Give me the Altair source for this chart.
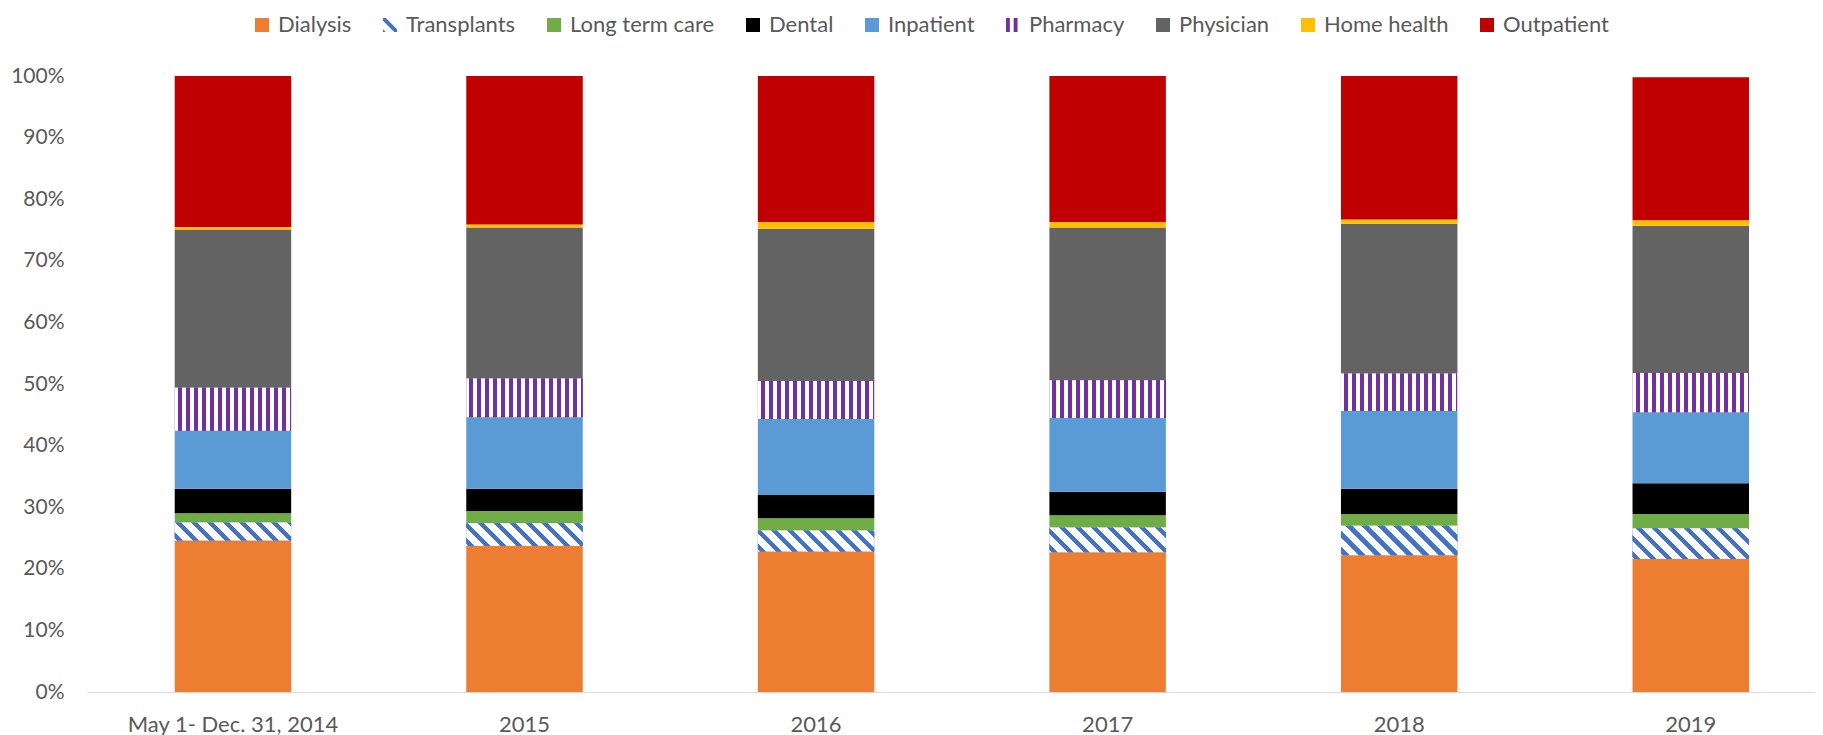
import altair as alt
import pandas as pd

# ---------------- data ----------------
years = ["May 1- Dec. 31, 2014", "2015", "2016", "2017", "2018", "2019"]
categories = ["Dialysis", "Transplants", "Long term care", "Dental", "Inpatient",
              "Pharmacy", "Physician", "Home health", "Outpatient"]
dialysis = [24.6, 23.7, 22.8, 22.7, 22.2, 21.6]
transplants = [2.9, 3.7, 3.4, 4.0, 4.8, 5.0]
long_term_care = [1.5, 2.0, 2.0, 2.0, 1.9, 2.3]
dental = [4.0, 3.6, 3.8, 3.8, 4.1, 5.0]
inpatient = [9.4, 11.6, 12.3, 12.0, 12.6, 11.5]
pharmacy = [7.0, 6.3, 6.2, 6.1, 6.1, 6.4]
physician = [25.7, 24.5, 24.7, 24.8, 24.3, 23.9]
home_health = [0.4, 0.5, 1.1, 0.9, 0.7, 0.9]
outpatient = [24.5, 24.1, 23.7, 23.7, 23.3, 23.2]
y_ticks = [0, 0.1, 0.2, 0.3, 0.4, 0.5, 0.6, 0.7, 0.8, 0.9, 1.0]

series = [dialysis, transplants, long_term_care, dental, inpatient,
          pharmacy, physician, home_health, outpatient]

# ---------------- styles ----------------
colors = ["#ED7D31", "#4472C4", "#70AD47", "#000000", "#5B9BD5",
          "#7030A0", "#636363", "#FFC000", "#C00000"]
TRANSPLANT_PATH = "M-1,-1L-0.6,-1L1,0.6L1,1L0.6,1L-1,-0.6Z M-1,0.6L-0.6,1L-1,1Z"
PHARMACY_PATH = "M-1,-1H-0.45V1H-1Z M0.1,-1H0.65V1H0.1Z"
shapes = ["square", TRANSPLANT_PATH, "square", "square", "square",
          PHARMACY_PATH, "square", "square", "square"]

FONT = "Lato"
TEXT = "#595959"
PLOT_W, PLOT_H = 1728, 616
PAD_INNER, PAD_OUTER, ALIGN = 0.6005, 0.2636, 0.5706
n = len(years)
step = PLOT_W / (n - PAD_INNER + 2 * PAD_OUTER)
band = step * (1 - PAD_INNER)

rows = []
for i, yr in enumerate(years):
    cum = 0.0
    for c, vals in zip(categories, series):
        v = vals[i] / 100.0
        rows.append({"year": yr, "category": c, "value": v, "start": cum, "end": cum + v})
        cum += v
df = pd.DataFrame(rows)


def diag_gradient(h, w, period=16.0, frac=0.4, color="#4472C4"):
    r = h / w
    a = (1 + r) / (1 + r * r)
    L = w + h
    stops = [{"offset": 0, "color": "#ffffff"}]
    pos = 2.0
    while pos < L:
        s = pos / L
        e = min((pos + frac * period) / L, 1.0)
        stops += [{"offset": s, "color": "#ffffff"}, {"offset": s, "color": color},
                  {"offset": e, "color": color}, {"offset": e, "color": "#ffffff"}]
        pos += period
    stops.append({"offset": 1, "color": "#ffffff"})
    return {"gradient": "linear", "x1": 0, "y1": 1, "x2": a, "y2": 1 - a * r, "stops": stops}


def vert_gradient(w, period=8.0, frac=0.5, color="#7030A0"):
    stops = [{"offset": 0, "color": "#ffffff"}]
    pos = 3.0
    while pos < w:
        s = pos / w
        e = min((pos + frac * period) / w, 1.0)
        stops += [{"offset": s, "color": "#ffffff"}, {"offset": s, "color": color},
                  {"offset": e, "color": color}, {"offset": e, "color": "#ffffff"}]
        pos += period
    stops.append({"offset": 1, "color": "#ffffff"})
    return {"gradient": "linear", "x1": 0, "y1": 0, "x2": 1, "y2": 0, "stops": stops}


x_enc = alt.X("year:N", sort=years,
              scale=alt.Scale(paddingInner=PAD_INNER, paddingOuter=PAD_OUTER, align=ALIGN,
                              round=False),
              axis=alt.Axis(title=None, labelAngle=0, domain=True, domainColor="#D9D9D9",
                            domainWidth=1, ticks=False, tickSize=0, grid=False,
                            labelPadding=39, labelBaseline="alphabetic", labelFont=FONT,
                            labelFontSize=22, labelColor=TEXT, labelLimit=400,
                            labelOverlap=False))
y_enc = alt.Y("start:Q", scale=alt.Scale(domain=[0, 1], nice=False),
              axis=alt.Axis(title=None, values=y_ticks, format=".0%", domain=False,
                            ticks=False, tickSize=0, grid=False, labelPadding=23,
                            labelFont=FONT, labelFontSize=21, labelColor=TEXT))
y2_enc = alt.Y2("end:Q")

legend = alt.Legend(title=None, orient="none", legendX=164, legendY=-62,
                    direction="horizontal", labelFont=FONT, labelFontSize=22,
                    labelColor=TEXT, symbolSize=196, symbolOpacity=1, labelOffset=5,
                    columnPadding=27, symbolStrokeWidth=0, labelLimit=400)
color_enc = alt.Color("category:N", scale=alt.Scale(domain=categories, range=colors),
                      legend=legend, sort=categories)
shape_enc = alt.Shape("category:N", scale=alt.Scale(domain=categories, range=shapes),
                      legend=legend, sort=categories)

base = alt.Chart(df)

legend_layer = base.mark_point(filled=True, opacity=0).encode(
    x=x_enc, y=alt.Y("end:Q"), color=color_enc, shape=shape_enc)

bars = base.mark_bar().encode(x=x_enc, y=y_enc, y2=y2_enc, color=color_enc)

pharm = base.transform_filter(alt.datum.category == "Pharmacy").mark_bar(
    fill=vert_gradient(band)).encode(x=x_enc, y=y_enc, y2=y2_enc)

layers = [legend_layer, bars, pharm]
for i, yr in enumerate(years):
    h = transplants[i] / 100.0 * PLOT_H
    layers.append(
        base.transform_filter(
            (alt.datum.category == "Transplants") & (alt.datum.year == yr)
        ).mark_bar(fill=diag_gradient(h, band)).encode(x=x_enc, y=y_enc, y2=y2_enc)
    )

chart = alt.layer(*layers).properties(
    width=PLOT_W, height=PLOT_H,
    autosize=alt.AutoSizeParams(type="none"),
    padding={"left": 79, "top": 68, "right": 0, "bottom": 46},
    background="white",
).configure_view(strokeWidth=0)

chart.save("out.html", embed_options={"renderer": "svg", "actions": False})
